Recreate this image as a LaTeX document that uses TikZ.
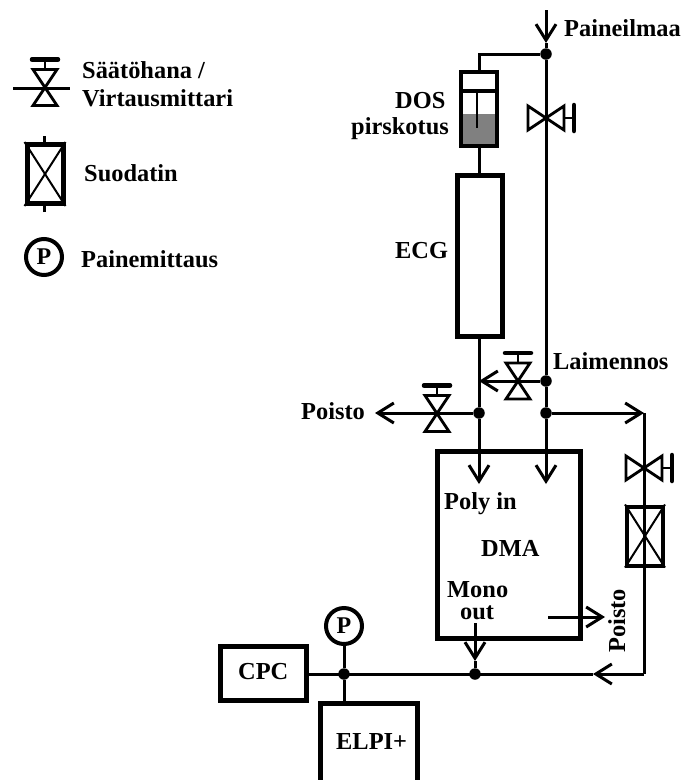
\documentclass[tikz,border=0pt]{standalone}
\usepackage{fontspec}
\setmainfont{Liberation Serif}
\usetikzlibrary{arrows.meta, calc}

\begin{document}
\begin{tikzpicture}[
        x=1pt, y=-1pt,
        pipe/.style={line width=3pt},
        arrow/.style={pipe,-{Straight Barb[length=16pt,width=20pt,line width=3pt]}},
        box/.style={rectangle, draw=black, line width=5pt, inner sep=0pt},
        joint/.style={circle, fill=black, inner sep=0pt, minimum size=11.5pt},
        gauge/.style={circle, draw=black, line width=4pt, inner sep=0pt, minimum size=36pt, font=\bfseries\fontsize{24}{26}\selectfont},
        txt/.style={anchor=base west, inner sep=0pt, font=\bfseries\fontsize{24.4}{26}\selectfont},
        valve/.pic={
            \draw[line width=2.8pt, line join=miter] (-12,-18) -- (12,-18) -- (-12,18) -- (12,18) -- cycle;
            \draw[line width=2.8pt] (0,-18) -- (0,-28);
            \draw[line width=4.5pt, line cap=round] (-13,-28) -- (13,-28);
        },
        valveside/.pic={
            \draw[line width=2.8pt, line join=miter] (-18,-12) -- (-18,12) -- (18,-12) -- (18,12) -- cycle;
            \draw[line width=2.8pt] (18,0) -- (28,0);
            \draw[line width=4.5pt, line cap=round] (28,-13) -- (28,13);
        }
    ]
        \useasboundingbox (0,0) rectangle (681,780);

        % Legend
        \coordinate (keyin) at (13,88);
        \coordinate (keyout) at (70,88);
        \draw[pipe] (keyin) -- (keyout);
        \pic at (45,87.5) {valve};
        \node[box, minimum width=36pt, minimum height=59pt] (keyfilter) at (45,174) {};
        \draw[line width=2pt] (keyfilter.north west) -- (keyfilter.south east);
        \draw[line width=2pt] (keyfilter.north east) -- (keyfilter.south west);
        \coordinate (keytop) at (44,136);
        \coordinate (keybot) at (44,212);
        \draw[pipe] (keytop) -- (keyfilter.north -| keytop);
        \draw[pipe] (keybot) -- (keyfilter.south -| keybot);
        \node[gauge] (keygauge) at (44,257) {P};
        \node[txt] (keyvalve) at (82,78) {Säätöhana /};
        \node[txt] (keyflow) at (82,106) {Virtausmittari};
        \node[txt] (keysuod) at (84,181) {Suodatin};
        \node[txt] (keypress) at (81,267) {Painemittaus};

        % Nodes
        \fill[black!50] (461,114) rectangle (497,146);
        \node[box, line width=4pt, minimum width=36pt, minimum height=74pt] (dos) at (479,109) {};
        \node[box, minimum width=45pt, minimum height=161pt] (ecg) at (479.5,256) {};
        \node[box, minimum width=143pt, minimum height=187pt] (dma) at (508.5,544.5) {};
        \node[box, line width=4pt, minimum width=36pt, minimum height=59pt] (filter) at (645,536) {};
        \node[box, minimum width=86pt, minimum height=54pt] (cpc) at (263,673) {};
        \node[box, minimum width=97pt, minimum height=90pt] (elpi) at (369,748) {};
        \node[gauge] (gauge) at (344,626) {P};

        \node[joint] (air) at (546,54) {};
        \node[joint] (dil) at (546,381) {};
        \node[joint] (split) at (546,413) {};
        \node[joint] (drain) at (479,413) {};
        \node[joint] (mono) at (475,674) {};
        \node[joint] (tee) at (344,674) {};

        \coordinate (airin) at (546,10);
        \coordinate (airtip) at (546,43);
        \coordinate (diltip) at (479,381);
        \coordinate (drainend) at (375,413);
        \coordinate (polytip) at (479,484);
        \coordinate (sheathtip) at (546,484);
        \coordinate (corner) at (644,413);
        \coordinate (cornerb) at (644,674);
        \coordinate (backtip) at (593,674);
        \coordinate (monotop) at (475,623);
        \coordinate (monotip) at (475,661);
        \coordinate (wastein) at (548,617);
        \coordinate (wasteout) at (605,617);
        \coordinate (dostop) at (479,54);

        % Arrows
        \draw[arrow] (airin) -- (airtip);
        \draw[pipe] (airtip) -- (air);
        \draw[pipe] (air) -- (dostop) -- (dos.north -| dostop);
        \draw[pipe] (air) -- (dil);
        \draw[pipe] (dos.south -| dostop) -- (ecg.north -| dostop);
        \draw[pipe] (dil) -- (split);
        \draw[arrow] (dil) -- (diltip);
        \draw[pipe] (ecg.south -| drain) -- (drain);
        \draw[arrow] (drain) -- (polytip);
        \draw[arrow] (split) -- (sheathtip);
        \draw[arrow] (drain) -- (drainend);
        \draw[arrow] (split) -- (corner);
        \draw[pipe] (corner) -- (cornerb);
        \draw[arrow] (cornerb) -- (backtip);
        \draw[pipe] (backtip) -- (cpc.east |- backtip);
        \draw[arrow] (monotop) -- (monotip);
        \draw[pipe] (monotip) -- (mono);
        \draw[arrow] (wastein) -- (wasteout);
        \draw[pipe] (gauge) -- (tee);
        \draw[pipe] (tee) -- (elpi.north -| tee);

        % Valves and syringe
        \pic at (546,118) {valveside};
        \pic at (518,381) {valve};
        \pic at (437,413.5) {valve};
        \pic at (644,468) {valveside};
        \draw[line width=4pt] (dos.west |- 0,91) -- (dos.east |- 0,91);
        \draw[line width=2.6pt] (477,91) -- (477,128);
        \draw[line width=2pt] (filter.north west) -- (filter.south east);
        \draw[line width=2pt] (filter.north east) -- (filter.south west);

        % Labels
        \node[txt] (painelabel) at (564,36) {Paineilmaa};
        \node[txt] (doslabel) at (395,108) {DOS};
        \node[txt] (pirlabel) at (351,134) {pirskotus};
        \node[txt] (ecglabel) at (395,258) {ECG};
        \node[txt] (laimlabel) at (553,369) {Laimennos};
        \node[txt] (poislabel) at (301,419) {Poisto};
        \node[txt] (polylabel) at (444,509) {Poly in};
        \node[txt] (dmalabel) at (481,556) {DMA};
        \node[txt] (monolabel) at (447,597) {Mono};
        \node[txt] (outlabel) at (460,619) {out};
        \node[txt, rotate=90] (poisside) at (625,653) {Poisto};
        \node[txt] (cpclabel) at (238,679) {CPC};
        \node[txt] (elpilabel) at (336,749) {ELPI+};
    \end{tikzpicture}
\end{document}
